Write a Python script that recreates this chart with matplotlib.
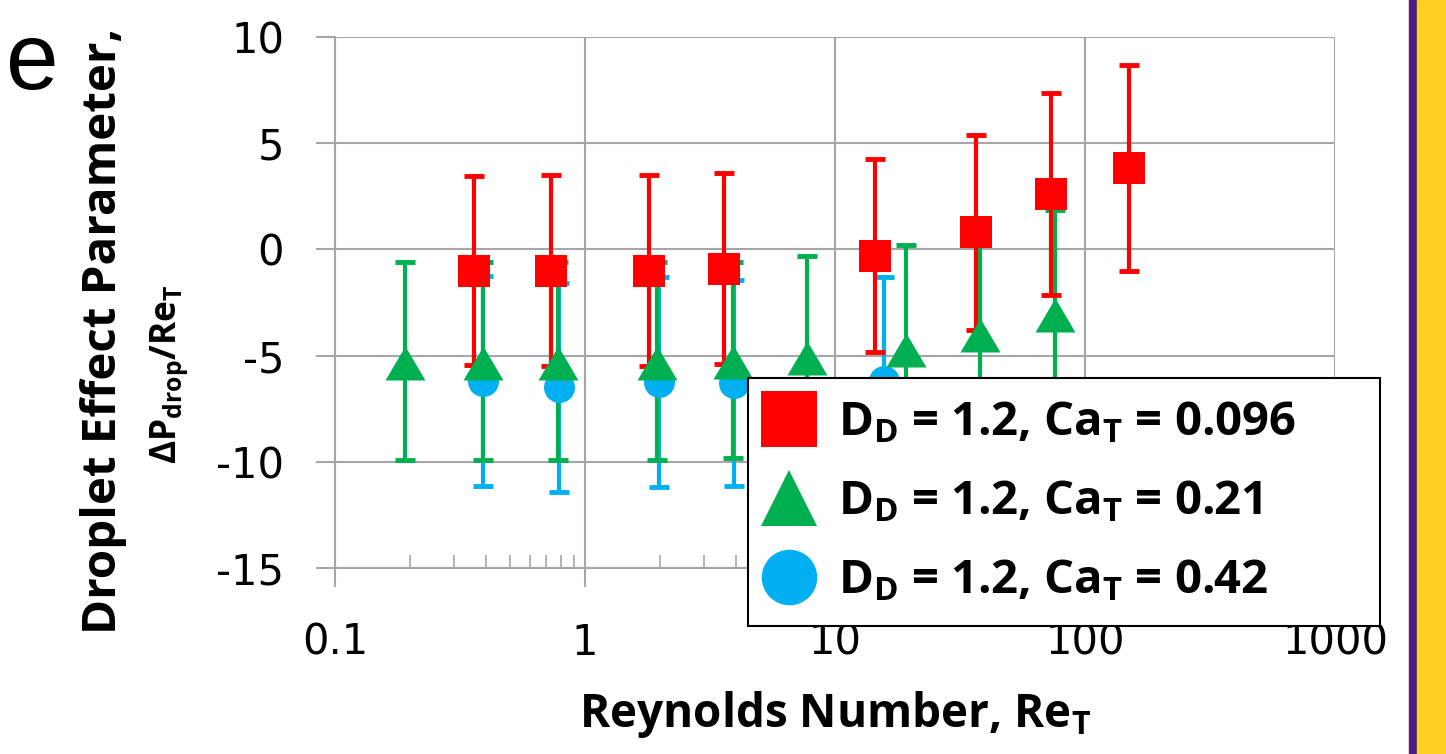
import matplotlib
matplotlib.use("Agg")
from matplotlib import pyplot as plt
from matplotlib.lines import Line2D
from matplotlib.patches import Rectangle
from matplotlib.ticker import LogLocator, NullFormatter

plt.rcParams['axes.unicode_minus'] = False

# data
re_red = [0.36, 0.73, 1.8, 3.6, 14.5, 36.5, 73, 150]
dp_red = [-1.0, -1.0, -1.0, -0.9, -0.3, 0.8, 2.6, 3.85]
err_red = [4.45, 4.5, 4.5, 4.5, 4.55, 4.6, 4.75, 4.85]

re_green = [0.19, 0.39, 0.78, 1.94, 3.9, 7.7, 19.2, 38, 76]
dp_green = [-5.25, -5.25, -5.25, -5.25, -5.2, -5.0, -4.65, -3.95, -3.0]
err_green = [4.65, 4.65, 4.65, 4.65, 4.6, 4.7, 4.85, 4.8, 4.85]

re_blue = [0.39, 0.79, 1.97, 3.94, 15.7]
dp_blue = [-6.2, -6.5, -6.25, -6.3, -6.2]
err_blue = [4.95, 4.9, 4.95, 4.85, 4.9]

labels = [r'$\mathregular{D_D}$ = 1.2, $\mathregular{Ca_T}$ = 0.096',
          r'$\mathregular{D_D}$ = 1.2, $\mathregular{Ca_T}$ = 0.21',
          r'$\mathregular{D_D}$ = 1.2, $\mathregular{Ca_T}$ = 0.42']
xticks = [0.1, 1, 10, 100, 1000]
xticklabels = ['0.1', '1', '10', '100', '1000']
yticks = [-15, -10, -5, 0, 5, 10]

RED = '#ff0000'
GREEN = '#00b050'
BLUE = '#00b0f0'
GREY = '#a6a6a6'
BOLD = 'Open Sans'

fig = plt.figure(figsize=(14.46, 7.54), dpi=100)
ax = fig.add_axes([335/1446, 1-568/754, 1000/1446, 531/754])

tri = [(-1, -0.95), (1, -0.95), (0, 0.75)]

#' error bars first, all under the markers
eb = dict(fmt='none', elinewidth=3.0, capsize=7.5, capthick=3.5, zorder=2)
ax.errorbar(re_blue, dp_blue, yerr=err_blue, ecolor=BLUE, **eb)
ax.errorbar(re_green, dp_green, yerr=err_green, ecolor=GREEN, **eb)
ax.errorbar(re_red, dp_red, yerr=err_red, ecolor=RED, **eb)

ax.plot(re_blue, dp_blue, 'o', color=BLUE, markersize=22.3, mew=0, zorder=3)
ax.plot(re_green, dp_green, marker=tri, ls='none', color=GREEN, markersize=28.8, mew=0, zorder=3)
ax.plot(re_red, dp_red, 's', color=RED, markersize=22.8, mew=0, zorder=3)

ax.set_xscale('log')
ax.set_xlim(0.1, 1000)
ax.set_ylim(-15, 10)
ax.set_xticks(xticks)
ax.set_xticklabels(xticklabels)
ax.set_yticks(yticks)
ax.xaxis.set_minor_locator(LogLocator(subs=range(2, 10)))
ax.xaxis.set_minor_formatter(NullFormatter())

ax.grid(True, which='major', color=GREY, lw=1.5)
ax.set_axisbelow(True)
for s in ['top', 'right']:
    ax.spines[s].set_visible(False)
for s in ['left', 'bottom']:
    ax.spines[s].set_color(GREY)
    ax.spines[s].set_linewidth(1.5)

ax.tick_params(axis='both', which='major', direction='out', length=13.7, width=1.5,
               color=GREY, labelsize=30)
ax.tick_params(axis='x', which='major', pad=25)
ax.tick_params(axis='y', which='major', pad=23)
ax.tick_params(axis='x', which='minor', direction='in', length=9.4, width=1.2, color=GREY)

handles = [Line2D([], [], ls='none', marker='s', color=RED, markersize=40, mew=0),
           Line2D([], [], ls='none', marker='^', color=GREEN, markersize=40, mew=0),
           Line2D([], [], ls='none', marker='o', color=BLUE, markersize=40, mew=0)]
leg = ax.legend(handles, labels, loc='upper left',
                bbox_to_anchor=(748/1446, 1-620/754, 632/1446, 242/754), mode='expand',
                bbox_transform=fig.transFigure, prop={'family': BOLD, 'weight': 'bold', 'size': 34},
                frameon=True, fancybox=False, framealpha=1, edgecolor='black',
                borderpad=0.45, labelspacing=0.68, handlelength=0.85, handletextpad=0.6,
                borderaxespad=0)
leg.get_frame().set_linewidth(1.5)
leg.set_zorder(5)

fig.text(835/1446, 1-715/754, r'Reynolds Number, $\mathregular{Re_T}$', ha='center', va='center',
         family=BOLD, weight='bold', fontsize=33)
# y label: two lines, placed by baseline
fig.text(116/1446, 1-331/754, 'Droplet Effect Parameter,', rotation=90, rotation_mode='anchor',
         ha='center', va='baseline', family=BOLD, weight='bold', fontsize=34.2)
fig.text(176/1446, 1-374/754, r'$\mathregular{\Delta P_{drop}/Re_T}$', rotation=90,
         rotation_mode='anchor', ha='center', va='baseline', family=BOLD, weight='bold',
         fontsize=25.5)

fig.text(32/1446, 1-64/754, 'e', ha='center', va='center', family='Liberation Sans', fontsize=68)

# side bars
fig.patches.append(Rectangle((1409/1446, 0), 8/1446, 1, transform=fig.transFigure,
                             color='#4b1f7a', zorder=0))
fig.patches.append(Rectangle((1417/1446, 0), 29/1446, 1, transform=fig.transFigure,
                             color='#fdd023', zorder=0))

fig.savefig('out.png', dpi=100)
